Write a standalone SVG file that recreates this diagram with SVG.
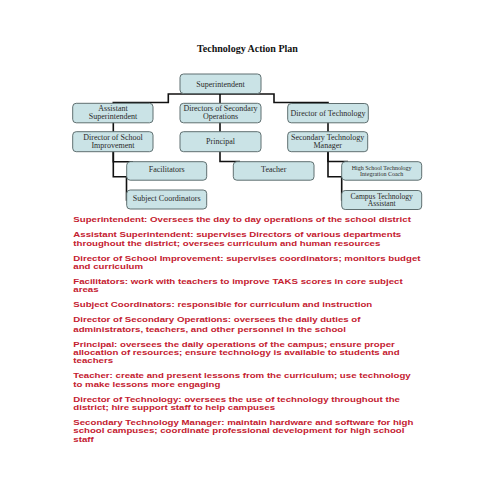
<svg xmlns="http://www.w3.org/2000/svg" width="495" height="495" viewBox="0 0 495 495">
<style>
.box{fill:#cae3e6;stroke:#5f6f70;stroke-width:1}
.bt{font-family:"Liberation Serif",serif;font-size:8px;fill:#2a2a2a;text-anchor:middle}
.sm{font-size:6px}
.md{font-size:7.6px}
.title{font-family:"Liberation Serif",serif;font-size:10px;font-weight:bold;fill:#111;text-anchor:middle}
.conn{fill:none;stroke:#111;stroke-width:1.6}
.desc{font-family:"Liberation Sans",Arial,sans-serif;font-size:8px;font-weight:bold;fill:#c4202f}
</style>
<rect width="495" height="495" fill="#fff"/>
<text class="title" x="247.5" y="52">Technology Action Plan</text>
<g id="connectors">
<path class="conn" d="M220,84 V94 H168.3 V102.5 H113.3 V110"/>
<path class="conn" d="M220,84 V110"/>
<path class="conn" d="M220,84 V94 H274 V102.5 H328 V110"/>
<path class="conn" d="M113.3,115 V140"/>
<path class="conn" d="M220,115 V140"/>
<path class="conn" d="M328,115 V140"/>
<path class="conn" d="M113.3,145 V161.7 H133"/>
<path class="conn" d="M113.3,145 V176.7 H126.5 V200 H133"/>
<path class="conn" d="M220,145 V161.5 H240"/>
<path class="conn" d="M328,145 V161.5 H348"/>
<path class="conn" d="M328,145 V176.7 H341.7 V200 H348"/>
</g>
<g id="superintendent"><rect class="box" x="180" y="74" width="81" height="19.5" rx="3.5"/><text class="bt" x="220.5" y="86.5">Superintendent</text></g>
<g id="assistant-superintendent"><rect class="box" x="72.7" y="103.3" width="80.3" height="19.5" rx="3.5"/><text class="bt" x="113" y="111">Assistant</text><text class="bt" x="113" y="118.5">Superintendent</text></g>
<g id="directors-secondary-operations"><rect class="box" x="180" y="103.3" width="81" height="19.5" rx="3.5"/><text class="bt" x="220.5" y="111">Directors of Secondary</text><text class="bt" x="220.5" y="118.5">Operations</text></g>
<g id="director-technology"><rect class="box" x="287.7" y="103.5" width="80.6" height="19.3" rx="3.5"/><text class="bt" x="328" y="115.5">Director of Technology</text></g>
<g id="director-school-improvement"><rect class="box" x="72.7" y="131.7" width="80.3" height="20" rx="3.5"/><text class="bt" x="113" y="140">Director of School</text><text class="bt" x="113" y="147.5">Improvement</text></g>
<g id="principal"><rect class="box" x="180" y="131.7" width="81" height="20" rx="3.5"/><text class="bt" x="220.5" y="144.2">Principal</text></g>
<g id="secondary-technology-manager"><rect class="box" x="287.7" y="131.7" width="80" height="20" rx="3.5"/><text class="bt" x="327.7" y="140">Secondary Technology</text><text class="bt" x="327.7" y="147.5">Manager</text></g>
<g id="facilitators"><rect class="box" x="126.7" y="161.7" width="80" height="18.5" rx="3.5"/><text class="bt" x="166.7" y="172">Facilitators</text></g>
<g id="subject-coordinators"><rect class="box" x="126.7" y="190" width="80" height="19" rx="3.5"/><text class="bt" x="166.7" y="201">Subject Coordinators</text></g>
<g id="teacher"><rect class="box" x="233.3" y="161.7" width="80.7" height="18.5" rx="3.5"/><text class="bt" x="273.7" y="172">Teacher</text></g>
<g id="hs-technology-integration-coach"><rect class="box" x="341.7" y="161.7" width="80" height="18.5" rx="3.5"/><text class="bt sm" x="381.7" y="170">High School Technology</text><text class="bt sm" x="381.7" y="175.8">Integration Coach</text></g>
<g id="campus-technology-assistant"><rect class="box" x="341.7" y="190.5" width="80" height="19" rx="3.5"/><text class="bt md" x="381.7" y="198.6">Campus Technology</text><text class="bt md" x="381.7" y="206.3">Assistant</text></g>
<g id="descriptions" transform="translate(73.3,0) scale(1.21,1)">
<text class="desc" x="0" y="222.3">Superintendent: Oversees the day to day operations of the school district</text>
<text class="desc" x="0" y="237.3">Assistant Superintendent: supervises Directors of various departments</text>
<text class="desc" x="0" y="245.7">throughout the district; oversees curriculum and human resources</text>
<text class="desc" x="0" y="260.7">Director of School Improvement: supervises coordinators; monitors budget</text>
<text class="desc" x="0" y="269">and curriculum</text>
<text class="desc" x="0" y="284">Facilitators: work with teachers to improve TAKS scores in core subject</text>
<text class="desc" x="0" y="292.3">areas</text>
<text class="desc" x="0" y="307.3">Subject Coordinators: responsible for curriculum and instruction</text>
<text class="desc" x="0" y="322.3">Director of Secondary Operations: oversees the daily duties of</text>
<text class="desc" x="0" y="331.7">administrators, teachers, and other personnel in the school</text>
<text class="desc" x="0" y="346.7">Principal: oversees the daily operations of the campus; ensure proper</text>
<text class="desc" x="0" y="355">allocation of resources; ensure technology is available to students and</text>
<text class="desc" x="0" y="363.3">teachers</text>
<text class="desc" x="0" y="378.3">Teacher: create and present lessons from the curriculum; use technology</text>
<text class="desc" x="0" y="386.7">to make lessons more engaging</text>
<text class="desc" x="0" y="401.7">Director of Technology: oversees the use of technology throughout the</text>
<text class="desc" x="0" y="410">district; hire support staff to help campuses</text>
<text class="desc" x="0" y="425">Secondary Technology Manager: maintain hardware and software for high</text>
<text class="desc" x="0" y="433.3">school campuses; coordinate professional development for high school</text>
<text class="desc" x="0" y="441.7">staff</text>
</g>
</svg>
